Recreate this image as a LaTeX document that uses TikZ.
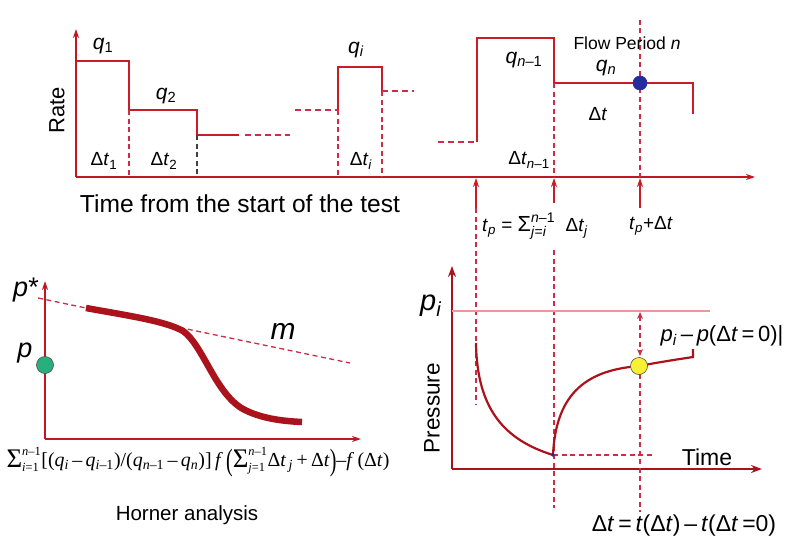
\documentclass[tikz,border=0pt]{standalone}
\usepackage[no-math]{fontspec}
\setmainfont{Liberation Sans}
\newfontfamily\tms{Liberation Serif}
\usetikzlibrary{arrows.meta}
\definecolor{stepred}{RGB}{200,28,40}
\definecolor{axred}{RGB}{190,25,35}
\definecolor{darkred}{RGB}{170,18,28}
\definecolor{dashred}{RGB}{205,45,70}
\definecolor{lightred}{RGB}{240,150,150}
\definecolor{bluedot}{RGB}{35,45,160}
\definecolor{greendot}{RGB}{40,175,125}
\definecolor{yellowdot}{RGB}{250,240,50}
\newcommand{\fs}[1]{\fontsize{#1}{#1}\selectfont}
\newcommand{\ii}[1]{\textit{#1}}
\newcommand{\limsum}[2]{$\mbox{\raisebox{-1pt}{\scalebox{1.35}{Σ}}}^{\mbox{\fs{10}#1}}_{\mbox{\fs{10}#2}}$}
\newcommand{\tallp}[1]{\raisebox{-3pt}{\scalebox{1}[1.55]{#1}}}
\begin{document}
\begin{tikzpicture}[x=1pt,y=-1pt,
  axis/.style={draw=axred,line width=1.8pt,-{Stealth[length=9pt,width=6pt]}},
  thickaxis/.style={draw=darkred,line width=2.6pt,-{Stealth[length=11pt,width=8pt]}},
  stepline/.style={draw=stepred,line width=2.4pt},
  dashline/.style={draw=dashred,line width=1.1pt,dash pattern=on 5pt off 3.5pt},
  blackdash/.style={draw=black!75,line width=1.1pt,dash pattern=on 5pt off 3.5pt},
  stepdash/.style={draw=dashred,line width=1.6pt,dash pattern=on 6pt off 4pt},
  uparrow/.style={draw=stepred,line width=1.8pt,-{Stealth[length=9pt,width=6pt]}},
  lbl/.style={inner sep=0pt,text=black},
  dot/.style={circle,draw=black!70,line width=0.6pt,minimum size=#1,inner sep=0pt},
]
\useasboundingbox (0,0) rectangle (800,551);
% ---------------- top panel ----------------
\coordinate (rO) at (76,177);
\coordinate (rY) at (76,29);
\coordinate (rX) at (755,177);
\draw[axis] (rO) -- (rY);
\draw[axis] (rO) -- (rX);
% steps
\draw[stepline] (76,61) -- (129,61) -- (129,110) -- (197,110) -- (197,135) -- (239,135);
\draw[stepdash] (245,135) -- (290,135);
\draw[stepdash] (295,110) -- (338,110);
\draw[stepline] (338,110) -- (338,67) -- (382,67) -- (382,91);
\draw[stepdash] (382,91) -- (414,91);
\draw[stepdash] (438,142) -- (477,142);
\draw[stepline] (477,142) -- (477,38) -- (554,38) -- (554,83) -- (693,83) -- (693,114);
% vertical dashed separators
\draw[dashline] (129,110) -- (129,177);
\draw[blackdash] (197,135) -- (197,177);
\draw[dashline] (338,110) -- (338,177);
\draw[dashline] (382,91) -- (382,177);
\draw[dashline] (554,83) -- (554,177);
\draw[dashline] (640,20) -- (640,177);
\node[dot=14pt,fill=bluedot,draw=bluedot] (bdot) at (640,83) {};
% labels
\node[lbl] (q1) at (103,46) {\fs{21}\ii{q}\textsubscript{1}};
\node[lbl] (q2) at (166,96) {\fs{21}\ii{q}\textsubscript{2}};
\node[lbl] (dt1) at (104,161) {\fs{19}Δ\ii{t}\textsubscript{1}};
\node[lbl] (dt2) at (164,161) {\fs{19}Δ\ii{t}\textsubscript{2}};
\node[lbl] (qi) at (356,50) {\fs{21}\ii{q}\textsubscript{\ii{i}}};
\node[lbl] (dti) at (361,161) {\fs{19}Δ\ii{t}\textsubscript{\ii{i}}};
\node[lbl] (qn1) at (524,60) {\fs{21}\ii{q}\textsubscript{\ii{n}–1}};
\node[lbl] (fp) at (627,43) {\fs{17.5}Flow Period \ii{n}};
\node[lbl] (qn) at (606,68) {\fs{21}\ii{q}\textsubscript{\ii{n}}};
\node[lbl] (dt) at (598,114) {\fs{19}Δ\ii{t}};
\node[lbl] (dtn1) at (529,160) {\fs{19}Δ\ii{t}\textsubscript{\ii{n}–1}};
\node[lbl,rotate=90] (rate) at (57,110) {\fs{22}Rate};
\node[lbl] (ttl) at (240,204) {\resizebox{320pt}{!}{\fs{22.5}Time from the start of the test}};
% up arrows below the time axis
\coordinate (a1) at (476,208); \coordinate (a1t) at (476,178);
\coordinate (a2) at (554,203); \coordinate (a2t) at (554,178);
\coordinate (a3) at (640,208); \coordinate (a3t) at (640,178);
\draw[uparrow] (a1) -- (a1t);
\draw[uparrow] (a2) -- (a2t);
\draw[uparrow] (a3) -- (a3t);
\node[lbl,anchor=west] (tp) at (482,226) {\fs{19}\ii{t}\textsubscript{\ii{p}} = $\mbox{\scalebox{1.15}{Σ}}^{\mbox{\fs{14}\ii{n}–1}}_{\mbox{\fs{14}\ii{j}=\ii{i}}}$\ \ Δ\ii{t}\textsubscript{\ii{j}}};
\node[lbl] (tpdt) at (651,226) {\fs{19}\ii{t}\textsubscript{\ii{p}}+Δ\ii{t}};
% long dashed verticals into lower right panel
\draw[dashline] (a1) -- (476,405);
\draw[dashline] (554,250) -- (554,508);
% ---------------- lower left: Horner ----------------
\coordinate (hO) at (45,439);
\coordinate (hY) at (45,281);
\coordinate (hX) at (361,439);
\draw[axis] (hO) -- (hY);
\draw[axis] (hO) -- (hX);
\draw[dashline,line width=1.3pt] (38,298) -- (350,363);
\draw[draw=darkred,line width=6.5pt] (86,308) .. controls (130,316) and (165,321) .. (183,331)
   .. controls (203,345) and (215,393) .. (243,409) .. controls (260,418) and (280,421) .. (302,422);
\node[dot=17pt,fill=greendot] (gdot) at (45,365) {};
\node[lbl] (pstar) at (26,290) {\fs{27}\ii{p}*};
\node[lbl] (plab) at (25,353) {\fs{27}\ii{p}};
\node[lbl] (m) at (283,331) {\fs{30}\ii{m}};
\node[lbl] (horner) at (198,462) {\resizebox{383pt}{!}{\tms\fs{16}\limsum{\ii{n}–1}{\ii{i}=1}[(\ii{q}\textsubscript{\ii{i}}\,–\,\ii{q}\textsubscript{\ii{i}–1})/(\ii{q}\textsubscript{\ii{n}–1}\,–\,\ii{q}\textsubscript{\ii{n}})]\,\ii{f}\,\tallp{(}\limsum{\ii{n}–1}{\ii{j}=1}Δ\ii{t}\textsubscript{\,\ii{j}}\,+\,Δ\ii{t}\tallp{)}–\ii{f}\,(Δ\ii{t})}};
\node[lbl] (hlab) at (187,515) {\fs{20.5}Horner analysis};
% ---------------- lower right: pressure ----------------
\coordinate (pO) at (452,469);
\coordinate (pY) at (452,266);
\coordinate (pX) at (762,469);
\draw[thickaxis] (pO) -- (pY);
\draw[thickaxis] (pO) -- (pX);
\draw[draw=lightred,line width=1.2pt] (452,311) -- (710,311);
\draw[dashline] (553,455) -- (653,455);
\draw[draw=darkred,line width=2.2pt] (476,343) .. controls (477,410) and (505,440) .. (553,455);
\draw[draw=darkred,line width=2.2pt] (553,455) .. controls (556,390) and (590,370) .. (639,366)
   .. controls (660,362) and (680,359) .. (693,357) -- (693,349);
\node[dot=3pt,fill=bluedot,draw=bluedot] (mini) at (553,455) {};
\coordinate (da1) at (640,312);
\coordinate (da2) at (640,356);
\draw[dashline,line width=1.4pt,{Stealth[length=7pt,width=6pt]}-{Stealth[length=7pt,width=6pt]}] (da1) -- (da2);
\draw[dashline] (640,374) -- (640,512);
\node[dot=17pt,fill=yellowdot] (ydot) at (639,366) {};
\node[lbl] (pi) at (431,306) {\fs{29}\ii{p}\textsubscript{\ii{i}}};
\node[lbl,rotate=90] (press) at (432,408) {\fs{22.5}Pressure};
\node[lbl] (time) at (707,457) {\fs{23}Time};
\node[lbl] (pdiff) at (722,336) {\fs{22}\ii{p}\textsubscript{\ii{i}}\,–\,\ii{p}(Δ\ii{t}\,=\,0)|};
\node[lbl] (dtdef) at (684,526) {\fs{23}Δ\ii{t}\,=\,\ii{t}(Δ\ii{t})\,–\,\ii{t}(Δ\ii{t}\,=0)};
\end{tikzpicture}
\end{document}
